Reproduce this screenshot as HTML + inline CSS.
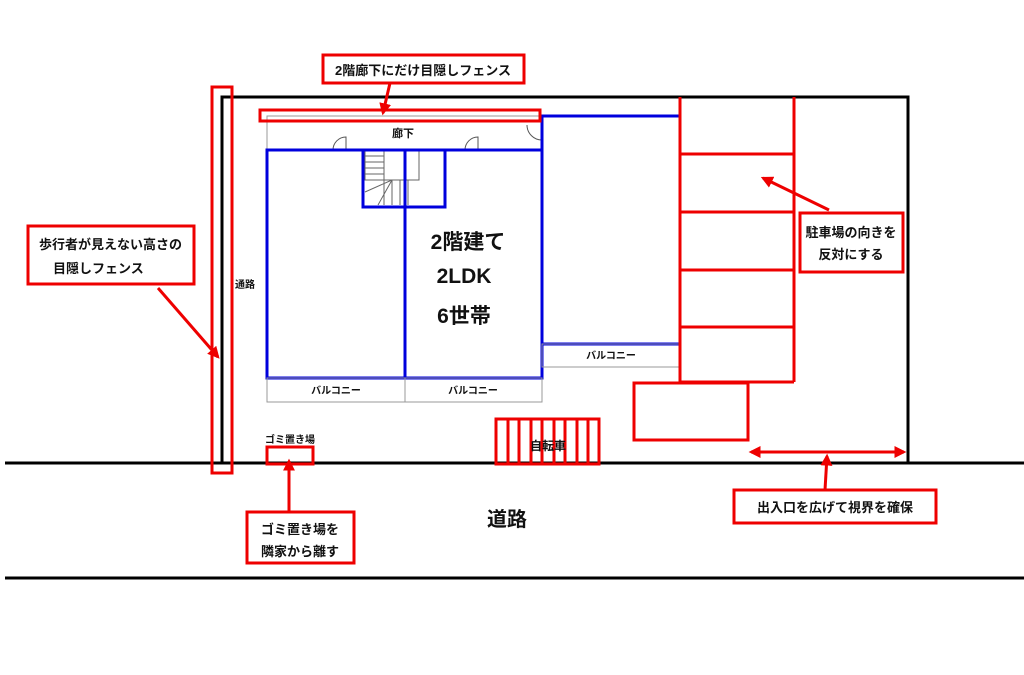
<!DOCTYPE html>
<html><head><meta charset="utf-8"><style>
html,body{margin:0;padding:0;background:#fff;}
svg{display:block;}
text{font-family:"Liberation Sans","Noto Sans CJK JP",sans-serif;fill:#111;}
</style></head><body>
<svg width="1024" height="675" viewBox="0 0 1024 675" xmlns="http://www.w3.org/2000/svg">
<defs>
<marker id="ah" viewBox="0 0 10 10" refX="8" refY="5" markerWidth="4" markerHeight="4" orient="auto-start-reverse"><path d="M0,0 L10,5 L0,10 z" fill="#e00"/></marker>
</defs>
<line x1="5" y1="463" x2="1024" y2="463" stroke="#000" stroke-width="3"/>
<line x1="5" y1="578" x2="1024" y2="578" stroke="#000" stroke-width="3"/>
<polyline points="222,463 222,97 908,97 908,463" fill="none" stroke="#000" stroke-width="3"/>
<rect x="267" y="116" width="275" height="34" fill="none" stroke="#999" stroke-width="1"/>
<text x="403" y="137" font-size="11" text-anchor="middle" font-weight="bold">廊下</text>
<path d="M333,150 A13,13 0 0 1 346,137 L346,150" fill="none" stroke="#555" stroke-width="1"/>
<path d="M465,150 A13,13 0 0 1 478,137 L478,150" fill="none" stroke="#555" stroke-width="1"/>
<path d="M542,140 A15,15 0 0 1 527,125" fill="none" stroke="#555" stroke-width="1"/>
<g stroke="#666" stroke-width="1" fill="none">
<rect x="365" y="150" width="54" height="30"/>
<line x1="365" y1="156" x2="384" y2="156"/><line x1="365" y1="162" x2="384" y2="162"/>
<line x1="365" y1="168" x2="384" y2="168"/><line x1="365" y1="174" x2="384" y2="174"/>
<line x1="384" y1="150" x2="384" y2="180"/>
<line x1="384" y1="180" x2="384" y2="205"/><line x1="392" y1="180" x2="392" y2="205"/>
<line x1="400" y1="180" x2="400" y2="205"/><line x1="408" y1="180" x2="408" y2="205"/>
<line x1="365" y1="192" x2="392" y2="180"/><line x1="378" y1="205" x2="392" y2="180"/>
</g>
<g fill="none" stroke="#0000dd" stroke-width="3">
<rect x="267" y="150" width="138" height="228"/>
<rect x="405" y="150" width="137" height="228"/>
<rect x="363" y="150" width="82" height="57"/>
<rect x="542" y="116" width="138" height="228"/>
</g>
<g fill="none" stroke="#999" stroke-width="1">
<rect x="267" y="378" width="275" height="24"/>
<line x1="405" y1="378" x2="405" y2="402"/>
<rect x="542" y="344" width="138" height="23"/>
</g>
<text x="336" y="394" font-size="10" text-anchor="middle" font-weight="bold">バルコニー</text>
<text x="473" y="394" font-size="10" text-anchor="middle" font-weight="bold">バルコニー</text>
<text x="611" y="359" font-size="10" text-anchor="middle" font-weight="bold">バルコニー</text>
<text x="468" y="249" font-size="21" text-anchor="middle" font-weight="bold">2階建て</text>
<text x="464" y="283" font-size="21" text-anchor="middle" font-weight="bold">2LDK</text>
<text x="464" y="323" font-size="21" text-anchor="middle" font-weight="bold">6世帯</text>
<text x="245" y="288" font-size="10" text-anchor="middle" font-weight="bold">通路</text>
<g fill="none" stroke="#e00" stroke-width="3">
<rect x="212" y="87" width="20" height="386"/>
<rect x="260" y="110" width="280" height="11"/>
<line x1="680" y1="97" x2="680" y2="382"/>
<line x1="794" y1="97" x2="794" y2="382"/>
<line x1="680" y1="154" x2="794" y2="154"/>
<line x1="680" y1="212" x2="794" y2="212"/>
<line x1="680" y1="270" x2="794" y2="270"/>
<line x1="680" y1="327" x2="794" y2="327"/>
<line x1="680" y1="382" x2="794" y2="382"/>
<rect x="634" y="383" width="114" height="57"/>
<rect x="496" y="419" width="103" height="45"/>
<line x1="508" y1="419" x2="508" y2="464"/><line x1="519" y1="419" x2="519" y2="464"/>
<line x1="531" y1="419" x2="531" y2="464"/><line x1="542" y1="419" x2="542" y2="464"/>
<line x1="554" y1="419" x2="554" y2="464"/><line x1="565" y1="419" x2="565" y2="464"/>
<line x1="577" y1="419" x2="577" y2="464"/><line x1="588" y1="419" x2="588" y2="464"/>
<rect x="267" y="447" width="46" height="17"/>
<rect x="323" y="55" width="201" height="28"/>
<rect x="28" y="226" width="166" height="58"/>
<rect x="800" y="213" width="103" height="59"/>
<rect x="734" y="490" width="202" height="33"/>
<rect x="247" y="512" width="107" height="51"/>
</g>
<text x="548" y="450" font-size="12" text-anchor="middle" font-weight="bold">自転車</text>
<text x="290" y="443" font-size="10" text-anchor="middle" font-weight="bold">ゴミ置き場</text>
<text x="423" y="75" font-size="13" text-anchor="middle" font-weight="bold">2階廊下にだけ目隠しフェンス</text>
<text x="39" y="249" font-size="13" font-weight="bold">歩行者が見えない高さの</text>
<text x="53" y="273" font-size="13" font-weight="bold">目隠しフェンス</text>
<text x="851" y="237" font-size="13" text-anchor="middle" font-weight="bold">駐車場の向きを</text>
<text x="851" y="259" font-size="13" text-anchor="middle" font-weight="bold">反対にする</text>
<text x="835" y="512" font-size="13" text-anchor="middle" font-weight="bold">出入口を広げて視界を確保</text>
<text x="300" y="534" font-size="13" text-anchor="middle" font-weight="bold">ゴミ置き場を</text>
<text x="300" y="556" font-size="13" text-anchor="middle" font-weight="bold">隣家から離す</text>
<text x="507" y="526" font-size="20" text-anchor="middle" font-weight="bold">道路</text>
<g stroke="#e00" stroke-width="3" fill="none">
<line x1="390" y1="83" x2="383" y2="113" marker-end="url(#ah)"/>
<line x1="158" y1="288" x2="218" y2="357" marker-end="url(#ah)"/>
<line x1="829" y1="210" x2="763" y2="178" marker-end="url(#ah)"/>
<line x1="751" y1="452" x2="904" y2="452" marker-start="url(#ah)" marker-end="url(#ah)"/>
<line x1="825" y1="490" x2="827" y2="456" marker-end="url(#ah)"/>
<line x1="289" y1="512" x2="289" y2="461" marker-end="url(#ah)"/>
</g>
</svg>
</body></html>
